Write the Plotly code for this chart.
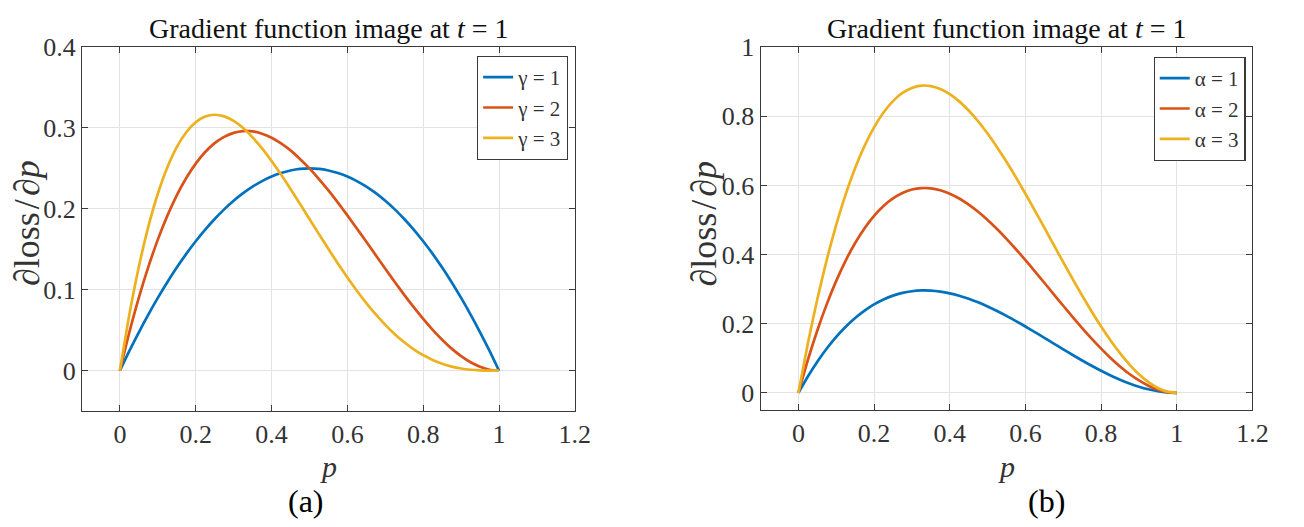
import plotly.graph_objects as go

# ---- data ----
p_vals = [0.000, 0.025, 0.050, 0.075, 0.100, 0.125, 0.150, 0.175, 0.200, 0.225,
          0.250, 0.275, 0.300, 0.325, 0.350, 0.375, 0.400, 0.425, 0.450, 0.475,
          0.500, 0.525, 0.550, 0.575, 0.600, 0.625, 0.650, 0.675, 0.700, 0.725,
          0.750, 0.775, 0.800, 0.825, 0.850, 0.875, 0.900, 0.925, 0.950, 0.975, 1.000]

# panel (a): gradient for different gamma
gamma1 = [0, .0244, .0475, .0694, .0900, .1094, .1275, .1444, .1600, .1744,
          .1875, .1994, .2100, .2194, .2275, .2344, .2400, .2444, .2475, .2494,
          .2500, .2494, .2475, .2444, .2400, .2344, .2275, .2194, .2100, .1994,
          .1875, .1744, .1600, .1444, .1275, .1094, .0900, .0694, .0475, .0244, 0]
gamma2 = [0, .0475, .0903, .1283, .1620, .1914, .2168, .2382, .2560, .2703,
          .2813, .2891, .2940, .2962, .2958, .2930, .2880, .2810, .2723, .2618,
          .2500, .2369, .2228, .2077, .1920, .1758, .1593, .1426, .1260, .1097,
          .0938, .0785, .0640, .0505, .0383, .0273, .0180, .0104, .0048, .0012, 0]
gamma3 = [0, .0695, .1286, .1781, .2187, .2512, .2764, .2948, .3072, .3142,
          .3164, .3144, .3087, .2999, .2884, .2747, .2592, .2424, .2246, .2062,
          .1875, .1688, .1504, .1324, .1152, .0989, .0836, .0695, .0567, .0452,
          .0352, .0265, .0192, .0133, .0086, .0051, .0027, .0012, .0004, .0000, 0]

# panel (b): gradient for different alpha
alpha1 = [0, .0475, .0903, .1283, .1620, .1914, .2168, .2382, .2560, .2703,
          .2813, .2891, .2940, .2962, .2958, .2930, .2880, .2810, .2723, .2618,
          .2500, .2369, .2228, .2077, .1920, .1758, .1593, .1426, .1260, .1097,
          .0938, .0785, .0640, .0505, .0383, .0273, .0180, .0104, .0048, .0012, 0]
alpha2 = [0, .0951, .1805, .2567, .3240, .3828, .4335, .4764, .5120, .5406,
          .5625, .5782, .5880, .5923, .5915, .5859, .5760, .5621, .5445, .5237,
          .5000, .4738, .4455, .4154, .3840, .3516, .3185, .2852, .2520, .2193,
          .1875, .1569, .1280, .1011, .0765, .0547, .0360, .0208, .0095, .0024, 0]
alpha3 = [0, .1426, .2708, .3850, .4860, .5742, .6503, .7147, .7680, .8108,
          .8438, .8673, .8820, .8885, .8873, .8789, .8640, .8431, .8168, .7855,
          .7500, .7107, .6683, .6231, .5760, .5273, .4778, .4278, .3780, .3290,
          .2813, .2354, .1920, .1516, .1148, .0820, .0540, .0312, .0143, .0037, 0]

names_a = ["γ = 1", "γ = 2", "γ = 3"]
names_b = ["α = 1", "α = 2", "α = 3"]
colors = ["#0072BD", "#D95319", "#EDB120"]

FONT = "Liberation Serif, Times New Roman, serif"
TXT = "#333333"
AX = "#3a3a3a"
GRID = "#e3e3e3"

fig = go.Figure()
for ys, nm, c in zip([gamma1, gamma2, gamma3], names_a, colors):
    fig.add_trace(go.Scatter(x=p_vals, y=ys, name=nm, mode="lines",
                             line=dict(color=c, width=2.7, shape="spline", smoothing=0.6),
                             xaxis="x", yaxis="y", legend="legend"))
for ys, nm, c in zip([alpha1, alpha2, alpha3], names_b, colors):
    fig.add_trace(go.Scatter(x=p_vals, y=ys, name=nm, mode="lines",
                             line=dict(color=c, width=2.7, shape="spline", smoothing=0.6),
                             xaxis="x2", yaxis="y2", legend="legend2"))

W, H = 1304, 527
def dom_x(a, b):
    return [a / W, b / W]
def dom_y(top, bottom):
    return [1 - bottom / H, 1 - top / H]

axis_common = dict(showline=True, linecolor=AX, linewidth=1.2, mirror="ticks",
                   ticks="inside", ticklen=6, tickcolor=AX, tickwidth=1.2,
                   showgrid=True, gridcolor=GRID, gridwidth=1, zeroline=False,
                   tickfont=dict(family=FONT, size=26, color=TXT))

leg_common = dict(xanchor="right", yanchor="top", bgcolor="white", bordercolor=AX,
                  borderwidth=1.2, font=dict(family=FONT, size=21, color=TXT),
                  tracegroupgap=0, itemwidth=30)

fig.update_layout(
    width=W, height=H,
    font=dict(family=FONT, color=TXT),
    margin=dict(l=0, r=0, t=0, b=0),
    paper_bgcolor="white", plot_bgcolor="white",
    xaxis=dict(domain=dom_x(83, 582), range=[-0.1, 1.2], dtick=0.2, anchor="y", **axis_common),
    yaxis=dict(domain=dom_y(34, 408), range=[-0.05, 0.4], dtick=0.1, anchor="x", **axis_common),
    xaxis2=dict(domain=dom_x(770, 1268), range=[-0.1, 1.2], dtick=0.2, anchor="y2", **axis_common),
    yaxis2=dict(domain=dom_y(34, 407), range=[-0.05, 1.0], dtick=0.2, anchor="x2", **axis_common),
    legend=dict(x=575 / W, y=1 - 43 / H, **leg_common),
    legend2=dict(x=1261 / W, y=1 - 44 / H, **leg_common),
    showlegend=True,
)

ann = []
title_txt = "Gradient function image at <i>t</i> = 1"
for cx in [(83 + 582) / 2, (770 + 1268) / 2]:
    ann.append(dict(text=title_txt, x=cx / W, y=1 - 15 / H, xref="paper", yref="paper",
                    xanchor="center", yanchor="middle", showarrow=False,
                    font=dict(family=FONT, size=28, color="#111111")))
    ann.append(dict(text="<i>p</i>", x=cx / W, y=1 - 465 / H, xref="paper", yref="paper",
                    xanchor="center", yanchor="middle", showarrow=False,
                    font=dict(family=FONT, size=30, color=TXT)))
ylab = "∂loss\u200a/\u200a∂<i>p</i>"
for lx in [28, 713]:
    ann.append(dict(text=ylab, x=lx / W, y=1 - 215 / H, xref="paper", yref="paper",
                    xanchor="center", yanchor="middle", showarrow=False, textangle=-90,
                    font=dict(family=FONT, size=36, color=TXT)))
ann.append(dict(text="(a)", x=310 / W, y=1 - 500 / H, xref="paper", yref="paper",
                xanchor="center", yanchor="middle", showarrow=False,
                font=dict(family=FONT, size=32, color="#000000")))
ann.append(dict(text="(b)", x=1060 / W, y=1 - 500 / H, xref="paper", yref="paper",
                xanchor="center", yanchor="middle", showarrow=False,
                font=dict(family=FONT, size=32, color="#000000")))
fig.update_layout(annotations=ann)

fig.write_html("out.html")
